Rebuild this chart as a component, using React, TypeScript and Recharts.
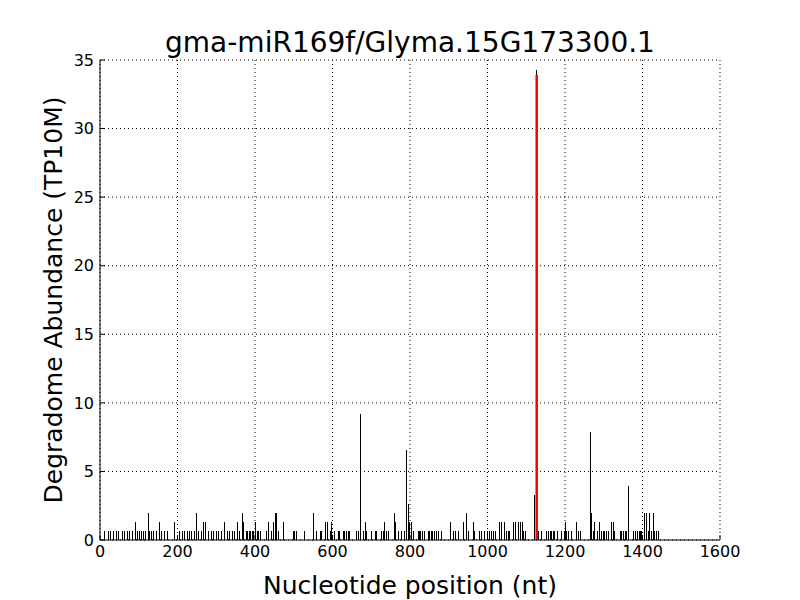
import React from 'react';
import { ComposedChart, XAxis, YAxis, CartesianGrid, ReferenceLine, Label } from 'recharts';

// cleavage positions (nt) and abundance (TP10M)
const positions = [
  12, 21, 28, 34, 42, 48, 57, 64, 71, 77, 85, 91, 96, 102, 107, 111, 117, 124, 128, 132, 137, 145, 153, 158, 167, 175, 193,
  206, 212, 218, 225, 231, 237, 244, 248, 254, 263, 268, 272, 279, 287, 294, 300, 306, 313, 322, 329, 335, 341, 348, 355, 361, 367, 371, 377, 381, 385, 389, 393, 397, 401, 406,
  410, 415, 429, 434, 443, 447, 452, 456, 460, 473, 499, 503, 508, 529, 550, 559, 568, 572, 581, 587, 594, 598,
  606, 615, 619, 628, 632, 637, 641, 645, 662, 666, 673, 679, 684, 688, 700, 710, 714, 727, 731, 735, 740, 744, 759, 763, 770, 778, 785, 790, 795, 799,
  804, 810, 821, 825, 828, 832, 837, 847, 851, 855, 859, 863, 868, 874, 882, 905, 911, 917, 926, 937, 945, 951, 963, 967, 980, 984, 993,
  1001, 1006, 1010, 1015, 1021, 1032, 1036, 1043, 1049, 1053, 1058, 1066, 1072, 1079, 1084, 1090, 1094, 1097, 1121, 1127, 1131, 1140, 1153, 1157, 1162, 1166, 1170, 1174, 1181, 1191, 1198,
  1200, 1204, 1208, 1217, 1230, 1234, 1239, 1265, 1269, 1273, 1277, 1283, 1289, 1295, 1299, 1303, 1308, 1312, 1321, 1325, 1329, 1342, 1346, 1351, 1355, 1359, 1365, 1378, 1382, 1387, 1391, 1395, 1398,
  1406, 1411, 1415, 1419, 1423, 1428, 1432, 1436, 1440,
];
const abundance = [
  0.66, 0.66, 0.66, 0.66, 0.66, 0.66, 0.66, 0.66, 0.66, 0.66, 0.66, 1.31, 0.66, 0.66, 0.66, 0.66, 0.66, 1.97, 0.66, 0.66, 0.66, 0.66, 1.31, 0.66, 0.66, 0.66, 1.31,
  0.66, 0.66, 0.66, 0.66, 0.66, 0.66, 0.66, 1.97, 0.66, 0.66, 1.31, 1.31, 0.66, 0.66, 0.66, 0.66, 0.66, 0.66, 1.31, 0.66, 0.66, 0.66, 0.66, 1.31, 0.66, 1.97, 1.31, 0.66, 0.66, 0.66, 0.66, 0.66, 0.66, 1.31, 0.66,
  0.66, 0.66, 0.66, 1.31, 0.66, 1.31, 1.97, 1.97, 0.66, 1.31, 0.66, 0.66, 0.66, 0.66, 1.97, 0.66, 0.66, 0.66, 1.31, 1.31, 0.66, 1.31,
  0.66, 0.66, 0.66, 0.66, 0.66, 0.66, 0.66, 0.66, 0.66, 0.66, 9.18, 0.66, 1.31, 0.66, 0.66, 0.66, 0.66, 0.66, 0.66, 1.31, 0.66, 0.66, 1.97, 1.31, 0.66, 0.66, 0.66, 6.56, 2.62, 1.31,
  1.31, 0.66, 0.66, 0.66, 0.66, 0.66, 0.66, 0.66, 0.66, 0.66, 0.66, 0.66, 0.66, 0.66, 0.66, 1.31, 0.66, 0.66, 0.66, 1.31, 1.97, 0.66, 1.31, 0.66, 0.66, 0.66, 0.66,
  0.66, 0.66, 0.66, 0.66, 0.66, 1.31, 1.31, 1.31, 0.66, 0.66, 0.66, 1.31, 1.31, 1.31, 1.31, 1.31, 0.66, 0.66, 3.28, 34.3, 0.66, 0.66, 0.66, 0.66, 0.66, 0.66, 0.66, 0.66, 0.66, 0.66, 0.66,
  1.31, 0.66, 0.66, 0.66, 1.31, 0.66, 0.66, 7.87, 1.97, 0.66, 1.31, 0.66, 1.31, 0.66, 0.66, 0.66, 0.66, 0.66, 1.31, 1.31, 0.66, 0.66, 0.66, 0.66, 0.66, 0.66, 3.94, 0.66, 0.66, 0.66, 0.66, 0.66, 0.66,
  1.97, 1.97, 0.66, 1.97, 0.66, 1.97, 0.66, 0.66, 0.66,
];
const target = { x: 1127, y: 33.9 };

const xTicks = [0, 200, 400, 600, 800, 1000, 1200, 1400, 1600];
const yTicks = [0, 5, 10, 15, 20, 25, 30, 35];

const font = "'DejaVu Sans', sans-serif";
const tickStyle = { fill: '#000', fontSize: 16, fontFamily: font };
const blank = () => '';

export default function App() {
  return (
    <div style={{ position: 'absolute', left: 0, top: 0, width: 800, height: 600, background: '#fff' }}>
      <div style={{ position: 'absolute', left: 100, width: 620, top: 26, textAlign: 'center', fontFamily: font, fontSize: 28, lineHeight: '34px' }}>
        gma-miR169f/Glyma.15G173300.1
      </div>
      <ComposedChart width={800} height={600} margin={{ top: 60, right: 80, bottom: 0, left: 0 }}>
        <CartesianGrid stroke="#000" strokeDasharray="1 3" />
        <XAxis
          type="number" dataKey="x" domain={[0, 1600]} ticks={xTicks} height={60}
          tick={tickStyle} tickSize={-5} tickMargin={11} axisLine={{ stroke: '#000' }} tickLine={{ stroke: '#000' }}
          allowDataOverflow
        >
          <Label value="Nucleotide position (nt)" position="insideBottom" offset={6} style={{ fontSize: 25, fontFamily: font, fill: '#000' }} />
        </XAxis>
        <XAxis
          xAxisId="top" orientation="top" type="number" domain={[0, 1600]} ticks={xTicks} height={0}
          tickFormatter={blank} tickSize={-5} axisLine={{ stroke: '#000' }} tickLine={{ stroke: '#000' }} allowDataOverflow
        />
        <YAxis
          type="number" domain={[0, 35]} ticks={yTicks} width={100}
          tick={tickStyle} tickSize={-5} tickMargin={11} axisLine={{ stroke: '#000' }} tickLine={{ stroke: '#000' }}
          allowDataOverflow
        >
          <Label value="Degradome Abundance (TP10M)" angle={-90} position="insideLeft" offset={53} style={{ fontSize: 25, fontFamily: font, fill: '#000', textAnchor: 'middle' }} />
        </YAxis>
        <YAxis
          yAxisId="right" orientation="right" type="number" domain={[0, 35]} ticks={yTicks} width={0}
          tickFormatter={blank} tickSize={-5} axisLine={{ stroke: '#000' }} tickLine={{ stroke: '#000' }} allowDataOverflow
        />
        {positions.map((p, i) => (
          <ReferenceLine
            key={p}
            segment={[{ x: p, y: 0 }, { x: p, y: abundance[i] }]}
            stroke="#000"
            strokeWidth={1}
            shapeRendering="crispEdges"
          />
        ))}
        <ReferenceLine
          segment={[{ x: target.x, y: 0 }, { x: target.x, y: target.y }]}
          stroke="#ff0000"
          strokeWidth={2.5}
        />
      </ComposedChart>
    </div>
  );
}
